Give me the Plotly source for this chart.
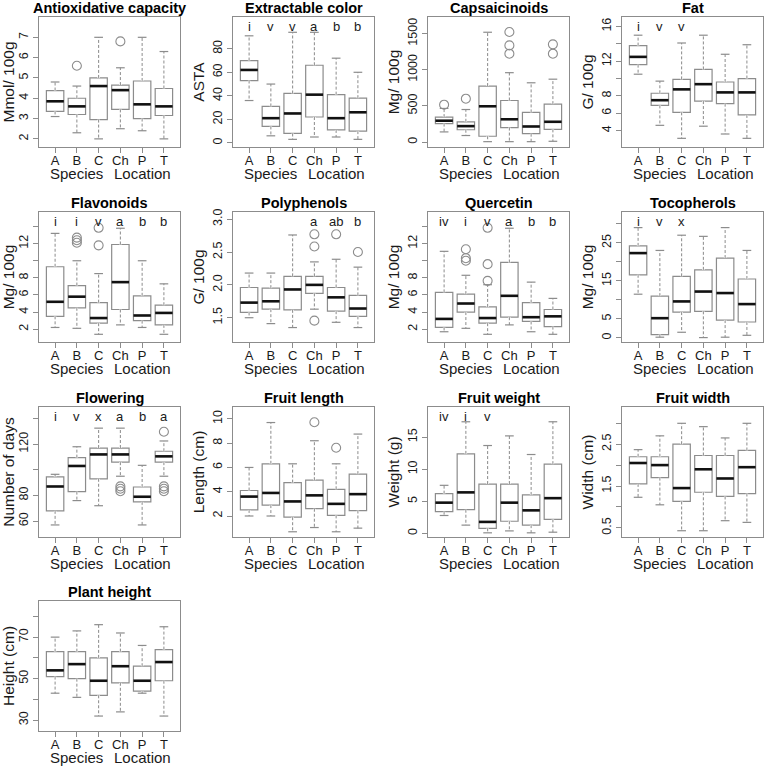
import plotly.graph_objects as go

# ---------------- data ----------------
categories = ["A", "B", "C", "Ch", "P", "T"]
group_names = ["Species", "Location"]
group_members = [["A", "B", "C"], ["Ch", "P", "T"]]

traits = ["Antioxidative capacity", "Extractable color", "Capsaicinoids", "Fat",
          "Flavonoids", "Polyphenols", "Quercetin", "Tocopherols",
          "Flowering", "Fruit length", "Fruit weight", "Fruit width",
          "Plant height"]
y_titles = ["Mmol/ 100g", "ASTA", "Mg/ 100g", "G/ 100g",
            "Mg/ 100g", "G/ 100g", "Mg/ 100g", "Mg/ 100g",
            "Number of days", "Length (cm)", "Weight (g)", "Width (cm)",
            "Height (cm)"]

lower_whisker = [
    [3.1, 2.3, 2.0, 2.5, 2.4, 2.0],
    [36, 6, 3, 5, 5, 3],
    [140, 90, 5, 5, 5, 10],
    [10.5, 4.6, 3.1, 4.5, 3.6, 3.1],
    [2.2, 2.1, 1.4, 2.5, 2.2, 1.4],
    [1.50, 1.41, 1.35, 1.63, 1.43, 1.35],
    [1.7, 2.1, 1.4, 2.5, 1.7, 1.4],
    [11.5, 0.2, 1.5, 0.1, 0.2, 0.7],
    [57, 76, 72, 95, 57, 95],
    [2.0, 2.0, 0.7, 1.05, 0.7, 1.0],
    [2.8, 1.3, 0.1, 0.4, 0.1, 0.2],
    [1.23, 1.05, 0.43, 0.43, 0.67, 0.63],
    [43, 41, 32, 34, 43, 32],
]
q1_values = [
    [3.35, 3.2, 2.95, 3.45, 3.0, 3.15],
    [53, 14, 8, 22, 11, 10],
    [255, 170, 80, 200, 115, 175],
    [11.6, 6.9, 6.1, 7.4, 7.1, 5.8],
    [3.5, 4.5, 2.7, 4.3, 3.0, 2.5],
    [1.58, 1.63, 1.62, 1.87, 1.60, 1.52],
    [2.2, 4.0, 2.7, 3.4, 2.9, 2.3],
    [16.6, 0.9, 6.8, 7.0, 4.7, 4.2],
    [68, 83, 93, 106, 75, 106],
    [2.5, 2.9, 1.9, 2.6, 2.05, 2.45],
    [3.4, 3.7, 0.8, 1.9, 1.3, 2.2],
    [1.55, 1.7, 1.13, 1.35, 1.25, 1.32],
    [51, 50, 42, 48, 44, 49],
]
median_values = [
    [3.85, 3.6, 4.6, 4.4, 3.7, 3.6],
    [62, 21, 25, 41, 21, 26],
    [295, 220, 495, 315, 215, 280],
    [12.5, 7.5, 8.75, 9.35, 8.4, 8.4],
    [5.2, 5.8, 3.3, 7.5, 3.6, 3.9],
    [1.73, 1.75, 1.93, 2.0, 1.81, 1.64],
    [3.2, 5.0, 3.3, 5.9, 3.4, 3.5],
    [22.3, 5.2, 9.6, 12.2, 11.8, 8.9],
    [87, 103, 112, 112, 79, 110.5],
    [3.6, 3.9, 3.2, 3.7, 3.0, 3.8],
    [4.8, 6.4, 1.8, 4.8, 3.6, 5.5],
    [2.05, 2.0, 1.45, 1.9, 1.68, 1.95],
    [54, 57, 49, 56, 49, 58],
]
q3_values = [
    [4.38, 4.0, 5.0, 4.65, 4.85, 4.48],
    [70, 31, 42, 66, 41, 38],
    [345, 280, 775, 575, 410, 525],
    [13.8, 8.3, 9.9, 11.05, 9.6, 10.0],
    [9.3, 7.1, 5.1, 11.9, 5.9, 4.8],
    [1.96, 1.95, 2.13, 2.13, 1.96, 1.84],
    [6.3, 6.1, 4.6, 9.8, 5.1, 4.3],
    [24.2, 11.0, 16.2, 17.9, 21.0, 15.5],
    [94.5, 109.5, 117, 117, 86.6, 114.5],
    [4.1, 6.3, 4.75, 4.95, 4.2, 5.45],
    [6.2, 12.4, 7.7, 7.7, 6.0, 10.8],
    [2.2, 2.2, 2.5, 2.23, 2.23, 2.35],
    [63, 63, 60, 63, 56, 64],
]
upper_whisker = [
    [4.8, 4.6, 7.0, 5.5, 7.0, 6.3],
    [91, 50, 94, 94, 72, 60],
    [465, 450, 1520, 960, 820, 870],
    [15.0, 9.7, 14.1, 15.0, 12.8, 13.9],
    [13.2, 10.0, 8.5, 13.8, 10.0, 7.3],
    [2.18, 2.18, 2.76, 2.35, 2.39, 2.27],
    [11.1, 8.3, 7.2, 13.8, 7.5, 5.6],
    [29.0, 23.0, 27.0, 26.7, 29.0, 23.0],
    [96.5, 118, 132.5, 132.5, 103.5, 122.5],
    [6.0, 9.7, 6.3, 8.2, 6.3, 8.75],
    [7.5, 17.4, 13.7, 15.2, 12.3, 17.4],
    [2.37, 2.7, 3.0, 2.92, 2.65, 3.0],
    [70, 73, 76, 72, 66, 75],
]
outlier_cats = [
    ["B", "Ch"],
    [],
    ["A", "B", "Ch", "Ch", "Ch", "T", "T"],
    [],
    ["B", "B", "B", "C", "C"],
    ["Ch", "Ch", "Ch", "P", "T"],
    ["B", "B", "B", "C", "C", "C"],
    [],
    ["Ch", "Ch", "Ch", "T", "T", "T", "T"],
    ["Ch", "P"],
    [],
    [],
    [],
]
outlier_vals = [
    [5.6, 6.8],
    [],
    [517, 600, 1223, 1338, 1523, 1223, 1352],
    [],
    [12.1, 12.4, 12.7, 11.8, 13.85],
    [1.455, 2.585, 2.77, 2.77, 2.50],
    [10.0, 10.3, 11.35, 7.65, 9.6, 13.85],
    [],
    [83.3, 85.2, 87.1, 83.3, 85.2, 87.1, 129.7],
    [9.72, 7.62],
    [],
    [],
    [],
]
sig_letters = [
    [],
    ["i", "v", "v", "a", "b", "b"],
    [],
    ["i", "v", "v", "", "", ""],
    ["i", "i", "v", "a", "b", "b"],
    ["", "", "", "a", "ab", "b"],
    ["iv", "i", "v", "a", "b", "b"],
    ["i", "v", "x", "", "", ""],
    ["i", "v", "x", "a", "b", "a"],
    [],
    ["iv", "i", "v", "", "", ""],
    [],
    [],
]
y_ranges = [
    [1.6, 8.0], [-3.5, 107], [-69, 1731], [2.1, 17.1],
    [0.5, 15.7], [1.13, 3.11], [0.5, 15.7], [-1.06, 33.1],
    [47.6, 149], [0.27, 10.98], [-0.55, 19.7], [0.28, 3.39],
    [24.8, 87.4],
]
y_tick_vals = [
    [2, 3, 4, 5, 6, 7],
    [0, 20, 40, 60, 80],
    [0, 500, 1000, 1500],
    [4, 6, 8, 10, 12, 14, 16],
    [2, 4, 6, 8, 10, 12, 14],
    [1.5, 2.0, 2.5, 3.0],
    [2, 4, 6, 8, 10, 12, 14],
    [0, 5, 10, 15, 20, 25, 30],
    [60, 80, 100, 120, 140],
    [2, 4, 6, 8, 10],
    [0, 5, 10, 15],
    [0.5, 1.0, 1.5, 2.0, 2.5, 3.0],
    [30, 40, 50, 60, 70, 80],
]
y_tick_text = [
    ["2", "3", "4", "5", "6", "7"],
    ["0", "20", "40", "60", "80"],
    ["0", "500", "1000", "1500"],
    ["4", "6", "8", "", "12", "", "16"],
    ["2", "4", "6", "8", "", "12", ""],
    ["1.5", "2.0", "2.5", "3.0"],
    ["2", "4", "6", "8", "", "12", ""],
    ["0", "5", "", "15", "", "25", ""],
    ["60", "80", "", "120", ""],
    ["2", "4", "6", "8", "10"],
    ["0", "5", "10", "15"],
    ["0.5", "", "1.5", "", "2.5", ""],
    ["30", "", "50", "", "70", ""],
]

# ---------------- style ----------------
W = H = 767
COL_LEFT = [39, 233, 428, 622]
ROW_TOP = [17, 212, 407, 601]
PW, PH = 141, 130
X_RANGE = [0.26, 6.74]
BOX_W = 0.8
CAP_W = 0.4
GRAY = "#8c8c8c"
TXT = "#1a1a1a"
FONT = "Liberation Sans, Arial, sans-serif"

fig = go.Figure()
annotations = []
layout_axes = {}
xpos = [i + 1 for i in range(len(categories))]

for k, trait in enumerate(traits):
    r, c = divmod(k, 4)
    sfx = "" if k == 0 else str(k + 1)
    xa, ya = "x" + sfx, "y" + sfx
    x0 = COL_LEFT[c] / W
    x1 = (COL_LEFT[c] + PW) / W
    y1 = 1 - ROW_TOP[r] / H
    y0 = 1 - (ROW_TOP[r] + PH) / H

    layout_axes["xaxis" + sfx] = dict(
        domain=[x0, x1], anchor=ya, range=X_RANGE, automargin=False,
        tickvals=xpos, ticktext=categories, ticks="outside", ticklen=5,
        ticklabelstandoff=-4,
        tickcolor=GRAY, showline=True, mirror=True, linecolor=GRAY,
        linewidth=1, showgrid=False, zeroline=False,
        tickfont=dict(size=13, color=TXT, family=FONT),
    )
    layout_axes["yaxis" + sfx] = dict(
        domain=[y0, y1], anchor=xa, range=y_ranges[k], automargin=False,
        tickvals=y_tick_vals[k], ticktext=y_tick_text[k], tickangle=-90,
        ticks="outside", ticklen=5, tickcolor=GRAY, showline=True,
        mirror=True, linecolor=GRAY, linewidth=1, showgrid=False,
        zeroline=False, tickfont=dict(size=12.5, color=TXT, family=FONT),
        title=dict(text=y_titles[k], standoff=2,
                   font=dict(size=15.5, color=TXT, family=FONT)),
    )

    lo, q1, md, q3, up = (lower_whisker[k], q1_values[k], median_values[k],
                          q3_values[k], upper_whisker[k])

    fig.add_trace(go.Box(
        x=xpos, q1=q1, median=md, q3=q3, lowerfence=lo, upperfence=up,
        width=BOX_W, whiskerwidth=0, fillcolor="white",
        line=dict(color=GRAY, width=1.2), xaxis=xa, yaxis=ya,
        name=trait, showlegend=False, hoverinfo="skip",
    ))

    wx, wy, cx, cy, mx, my = [], [], [], [], [], []
    for i, xp in enumerate(xpos):
        wx += [xp, xp, None, xp, xp, None]
        wy += [q3[i], up[i], None, q1[i], lo[i], None]
        cx += [xp - CAP_W / 2, xp + CAP_W / 2, None,
               xp - CAP_W / 2, xp + CAP_W / 2, None]
        cy += [up[i], up[i], None, lo[i], lo[i], None]
        mx += [xp - BOX_W / 2, xp + BOX_W / 2, None]
        my += [md[i], md[i], None]

    # mask the solid whiskers, then draw dashed R-style whiskers
    fig.add_trace(go.Scatter(x=wx, y=wy, mode="lines", xaxis=xa, yaxis=ya,
                             line=dict(color="white", width=2.5),
                             showlegend=False, hoverinfo="skip"))
    fig.add_trace(go.Scatter(x=wx, y=wy, mode="lines", xaxis=xa, yaxis=ya,
                             line=dict(color=GRAY, width=1, dash="3px,2px"),
                             showlegend=False, hoverinfo="skip"))
    fig.add_trace(go.Scatter(x=cx, y=cy, mode="lines", xaxis=xa, yaxis=ya,
                             line=dict(color=GRAY, width=1.2),
                             showlegend=False, hoverinfo="skip"))
    fig.add_trace(go.Scatter(x=mx, y=my, mode="lines", xaxis=xa, yaxis=ya,
                             line=dict(color="#111111", width=2.6),
                             showlegend=False, hoverinfo="skip"))
    if outlier_vals[k]:
        fig.add_trace(go.Scatter(
            x=[categories.index(cn) + 1 for cn in outlier_cats[k]],
            y=outlier_vals[k], mode="markers", xaxis=xa, yaxis=ya,
            marker=dict(symbol="circle-open", size=9, color=GRAY,
                        line=dict(width=1.1, color=GRAY)),
            showlegend=False, hoverinfo="skip"))

    # panel title
    annotations.append(dict(
        text="<b>" + trait + "</b>", xref=xa + " domain", yref=ya + " domain",
        x=0.5, y=1, xanchor="center", yanchor="bottom", yshift=-1,
        showarrow=False, font=dict(size=14.5, color="#000000", family=FONT)))
    # significance letters
    for i, lt in enumerate(sig_letters[k]):
        if lt:
            annotations.append(dict(
                text=lt, xref=xa, yref=ya + " domain", x=xpos[i], y=0.93,
                xanchor="center", yanchor="middle", showarrow=False,
                font=dict(size=13, color=TXT, family=FONT)))
    # group labels under the axis
    for gname, members in zip(group_names, group_members):
        gx = sum(categories.index(m) + 1 for m in members) / len(members)
        annotations.append(dict(
            text=gname, xref=xa, yref=ya + " domain", x=gx, y=0,
            xanchor="center", yanchor="middle", yshift=-26, showarrow=False,
            font=dict(size=15, color=TXT, family=FONT)))

fig.update_layout(
    width=W, height=H, margin=dict(l=0, r=0, t=0, b=0, autoexpand=False),
    paper_bgcolor="white", plot_bgcolor="white", showlegend=False,
    font=dict(family=FONT, color=TXT), annotations=annotations,
    **layout_axes,
)

fig.write_html("out.html", config={"displayModeBar": False},
               post_script="document.body.style.margin='0';"
                           "document.body.style.overflow='hidden';")
